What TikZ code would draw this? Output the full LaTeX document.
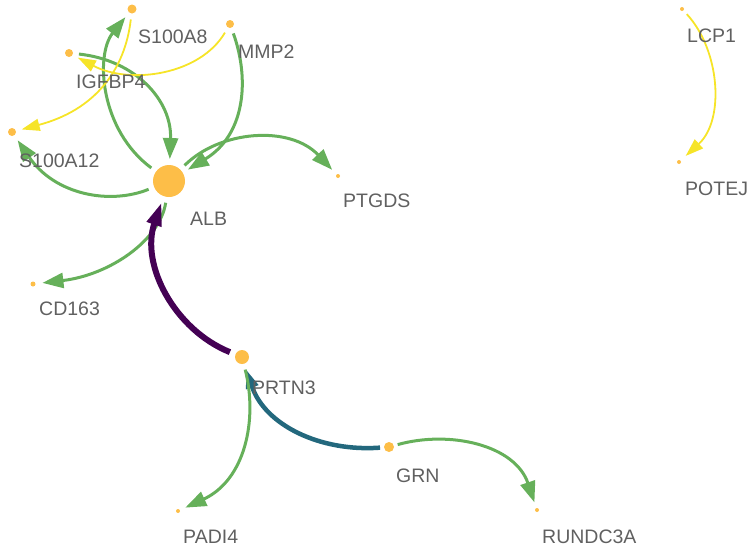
\documentclass[tikz,border=0pt]{standalone}
\usepackage{fontspec}
\setmainfont{Liberation Sans}
\usetikzlibrary{arrows.meta}
\definecolor{nodefill}{RGB}{253,190,72}
\definecolor{egreen}{RGB}{102,176,90}
\definecolor{eyellow}{RGB}{246,228,40}
\definecolor{epurple}{RGB}{68,1,84}
\definecolor{eteal}{RGB}{35,104,125}
\definecolor{labgray}{RGB}{96,96,96}
\pgfdeclarelayer{edges}
\pgfsetlayers{edges,main}
\begin{document}
\begin{tikzpicture}[x=1pt,y=-1pt,
  gene/.style={circle,fill=nodefill,draw=none,inner sep=0pt,minimum size=#1,outer sep=6pt},
  lab/.style={anchor=base west,inner sep=0pt,text=labgray,font=\fontsize{19.5}{22}\selectfont},
  greenedge/.style={draw=egreen,line width=3pt,-{Triangle[length=21pt,width=15pt]}},
  yellowedge/.style={draw=eyellow,line width=1.8pt,-{Triangle[length=18pt,width=12pt]}},
  purpleedge/.style={draw=epurple,line width=6pt,-{Triangle[length=24pt,width=14pt]}},
  tealedge/.style={draw=eteal,line width=4.5pt,-{Triangle[length=19pt,width=12pt]}}]
\useasboundingbox (0,0) rectangle (750,547);
% nodes
\node[gene=32pt] (ALB) at (169,181) {};
\node[gene=9pt] (S100A8) at (132,9) {};
\node[gene=8pt] (MMP2) at (230,24) {};
\node[gene=8pt] (IGFBP4) at (69,53) {};
\node[gene=8pt] (S100A12) at (12,132) {};
\node[gene=4pt,outer sep=6.5pt] (PTGDS) at (338,176) {};
\node[gene=5pt,outer sep=7pt] (CD163) at (33,284) {};
\node[gene=14pt] (PRTN3) at (242,357) {};
\node[gene=10pt,outer sep=4pt] (GRN) at (389,447) {};
\node[gene=4pt] (PADI4) at (178,511) {};
\node[gene=4pt] (RUNDC3A) at (537,510) {};
\node[gene=4pt,outer sep=5pt] (LCP1) at (682,9) {};
\node[gene=4pt,outer sep=7pt] (POTEJ) at (679,162) {};
% labels
\node[lab] (lALB) at (190,225) {ALB};
\node[lab] (lS100A8) at (138,43) {S100A8};
\node[lab] (lMMP2) at (238,58) {MMP2};
\node[lab] (lIGFBP4) at (76,88) {IGFBP4};
\node[lab] (lS100A12) at (19,167) {S100A12};
\node[lab] (lPTGDS) at (343,207) {PTGDS};
\node[lab] (lCD163) at (39,315) {CD163};
\node[lab] (lPRTN3) at (252,394) {PRTN3};
\node[lab] (lGRN) at (396,482) {GRN};
\node[lab] (lPADI4) at (183,543) {PADI4};
\node[lab] (lRUNDC3A) at (542,543) {RUNDC3A};
\node[lab] (lLCP1) at (687,42) {LCP1};
\node[lab] (lPOTEJ) at (685,195) {POTEJ};
% edges
\begin{pgfonlayer}{edges}
\draw[greenedge] (ALB) .. controls (100,130) and (95,55) .. (S100A8);
\draw[greenedge] (IGFBP4) .. controls (135,60) and (172,100) .. (ALB);
\draw[greenedge] (MMP2) .. controls (250,80) and (245,135) .. (ALB);
\draw[greenedge] (ALB) .. controls (220,130) and (290,125) .. (PTGDS);
\draw[greenedge] (ALB) .. controls (110,205) and (55,195) .. (S100A12);
\draw[greenedge] (ALB) .. controls (160,240) and (110,275) .. (CD163);
\draw[yellowedge] (S100A8) .. controls (125,70) and (95,110) .. (S100A12);
\draw[yellowedge] (MMP2) .. controls (200,75) and (130,85) .. (IGFBP4);
\draw[purpleedge] (PRTN3) .. controls (175,330) and (140,265) .. (ALB);
\draw[tealedge] (GRN) .. controls (320,452) and (265,425) .. (PRTN3);
\draw[greenedge] (PRTN3) .. controls (258,420) and (245,480) .. (PADI4);
\draw[greenedge] (GRN) .. controls (450,430) and (515,445) .. (RUNDC3A);
\draw[yellowedge] (LCP1) .. controls (720,50) and (725,120) .. (POTEJ);
\end{pgfonlayer}
\end{tikzpicture}
\end{document}
